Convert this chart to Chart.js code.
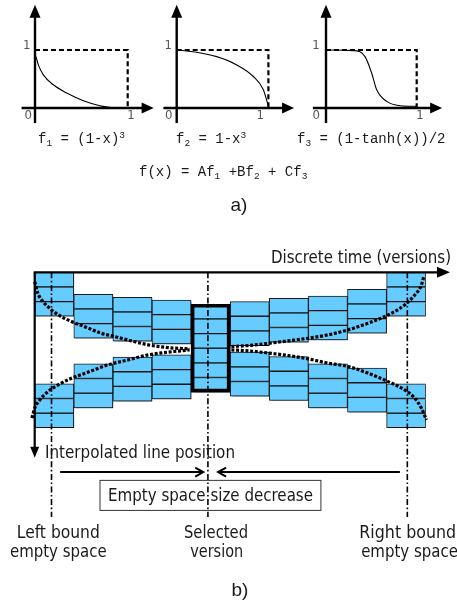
<!DOCTYPE html>
<html>
<head>
<meta charset="utf-8">
<script src="https://cdn.jsdelivr.net/npm/chart.js@4.4.1/dist/chart.umd.min.js"></script>
<style>
  html, body { margin: 0; padding: 0; background: #fff; }
  body { width: 457px; height: 604px; position: relative; overflow: hidden; }
  canvas { position: absolute; top: 0; }
</style>
</head>
<body>
<canvas id="chartB" width="457" height="604" style="left:0"></canvas>
<canvas id="f1" width="157" height="130" style="left:0"></canvas>
<canvas id="f2" width="150" height="130" style="left:157px"></canvas>
<canvas id="f3" width="150" height="130" style="left:307px"></canvas>
<script>
// ---- a) weighting functions ----
const f1X = [0, 0.011, 0.036, 0.09, 0.198, 0.342, 0.522, 0.70, 0.81, 0.86];
const f1Y = [0.9, 0.88, 0.743, 0.571, 0.40, 0.257, 0.126, 0.04, 0.011, 0.0];
const f2X = [0, 0.18, 0.436, 0.655, 0.836, 0.945, 1.0];
const f2Y = [1.0, 0.97, 0.886, 0.743, 0.543, 0.314, 0.03];
const f3X = [0, 0.30, 0.43, 0.504, 0.559, 0.669, 0.816, 1.0];
const f3Y = [1.0, 0.99, 0.886, 0.60, 0.314, 0.114, 0.04, 0.029];
const unitBoxX = [0, 1, 1];
const unitBoxY = [1, 1, 0];
const tickLabels = ['0', '1'];

// ---- b) versions and cell groups (y in cell heights from the time axis) ----
const versions = ['v1', 'v2', 'v3', 'v4', 'v5', 'v6', 'v7', 'v8', 'v9', 'v10'];
const upperTop = [0, 1.5, 1.7, 1.89, 2.18, 2.0, 1.77, 1.62, 1.16, 0];
const lowerTop = [7.61, 6.25, 5.79, 5.64, 5.18, 5.45, 5.75, 6.25, 6.54, 7.61];
const cellsPerGroup = 3;
const selectedIndex = 4;
const markerX = [0.43, 4.43, 9.53];

const upperLeftX = [0, 0.08, 0.21, 0.38, 0.6, 0.94, 1.28, 1.70, 2.05, 2.47, 2.90, 3.41, 3.96];
const upperLeftY = [0.64, 1.43, 1.99, 2.45, 2.9, 3.36, 3.71, 4.16, 4.39, 4.68, 4.95, 5.14, 5.23];
const lowerLeftX = [-0.07, 0, 0.13, 0.34, 0.6, 0.94, 1.36, 1.87, 2.39, 2.90, 3.41, 3.96];
const lowerLeftY = [9.95, 9.27, 8.71, 8.14, 7.68, 7.23, 6.82, 6.32, 5.98, 5.64, 5.45, 5.30];
const upperRightX = [5.03, 5.46, 6.01, 6.48, 6.99, 7.5, 8.01, 8.52, 9.04, 9.46, 9.72, 9.89, 9.95];
const upperRightY = [5.07, 5.0, 4.84, 4.68, 4.5, 4.27, 3.93, 3.48, 2.91, 2.23, 1.55, 0.87, 0.30];
const lowerRightX = [5.03, 5.46, 6.01, 6.48, 6.99, 7.5, 8.01, 8.52, 9.04, 9.46, 9.72, 9.89, 10.02];
const lowerRightY = [5.30, 5.36, 5.52, 5.68, 5.91, 6.2, 6.43, 6.88, 7.46, 8.02, 8.59, 9.27, 10.07];

const SANS = '"DejaVu Sans Condensed", "DejaVu Sans", sans-serif';
const MONO = '"Liberation Mono", "DejaVu Sans Mono", monospace';

function pts(xs, ys) { return xs.map((x, i) => ({ x: x, y: ys[i] })); }

function line(ctx, x1, y1, x2, y2) {
  ctx.beginPath(); ctx.moveTo(x1, y1); ctx.lineTo(x2, y2); ctx.stroke();
}
function arrowHead(ctx, tx, ty, dx, dy, len, half) {
  ctx.beginPath();
  ctx.moveTo(tx, ty);
  ctx.lineTo(tx - dx * len - dy * half, ty - dy * len + dx * half);
  ctx.lineTo(tx - dx * len + dy * half, ty - dy * len - dx * half);
  ctx.closePath(); ctx.fill();
}
function openHead(ctx, tx, ty, dx, len, half) {
  ctx.beginPath();
  ctx.moveTo(tx - dx * len, ty - half); ctx.lineTo(tx, ty); ctx.lineTo(tx - dx * len, ty + half);
  ctx.stroke();
}
// draw text squeezed/stretched to the width it has in the picture
function fitText(ctx, text, x, y, w, size, align) {
  ctx.save();
  ctx.font = size + 'px ' + SANS;
  const s = w / ctx.measureText(text).width;
  const x0 = align === 'center' ? x - w / 2 : align === 'right' ? x - w : x;
  ctx.translate(x0, y); ctx.scale(s, 1);
  ctx.textAlign = 'left'; ctx.textBaseline = 'alphabetic';
  ctx.fillText(text, 0, 0);
  ctx.restore();
}
function richText(ctx, x, y, segs) {
  ctx.save();
  ctx.textAlign = 'left'; ctx.textBaseline = 'alphabetic';
  segs.forEach(s => {
    const small = s[1] === 'sub' || s[1] === 'sup';
    ctx.font = (small ? 9.5 : 14) + 'px ' + MONO;
    const dy = s[1] === 'sub' ? 3 : s[1] === 'sup' ? -5.5 : 0;
    ctx.fillText(s[0], x, y + dy);
    x += ctx.measureText(s[0]).width;
  });
  ctx.restore();
}

// ---- a) small plots ----
const miniAxes = {
  id: 'miniAxes',
  afterDatasetsDraw(chart, args, o) {
    const { ctx } = chart;
    const X = v => chart.scales.x.getPixelForValue(v);
    const Y = v => chart.scales.y.getPixelForValue(v);
    ctx.save();
    ctx.strokeStyle = '#000'; ctx.fillStyle = '#000'; ctx.lineWidth = 2.4;
    line(ctx, X(-0.145), Y(0), X(1.28) - 10, Y(0));
    arrowHead(ctx, X(1.28), Y(0), 1, 0, 12, 5.5);
    line(ctx, X(0), Y(-0.26), X(0), Y(1.78) + 10);
    arrowHead(ctx, X(0), Y(1.78), 0, -1, 13, 5.5);
    ctx.fillStyle = '#555';
    ctx.font = '13px ' + SANS;
    ctx.textAlign = 'center'; ctx.textBaseline = 'middle';
    ctx.fillText(tickLabels[1], X(0) + o.yOne, Y(1) - 4.5);
    ctx.fillText(tickLabels[0], X(0) + o.zero, Y(0) + 8);
    ctx.fillText(tickLabels[1], X(1) + o.xOne, Y(0) + 8);
    ctx.restore();
  }
};

function miniChart(id, cx, cy, o) {
  const cv = document.getElementById(id);
  const W = cv.width, H = cv.height;
  new Chart(cv, {
    type: 'line',
    data: {
      datasets: [
        { data: pts(cx, cy), borderColor: '#000', borderWidth: 1.1, pointRadius: 0,
          cubicInterpolationMode: 'monotone', clip: false },
        { data: pts(unitBoxX, unitBoxY), borderColor: '#000', borderWidth: 2.2,
          borderDash: [5, 3], pointRadius: 0, tension: 0, clip: false }
      ]
    },
    options: {
      responsive: false, animation: false, events: [],
      layout: { padding: 0 },
      plugins: { legend: { display: false }, tooltip: { enabled: false }, miniAxes: o },
      scales: {
        x: { type: 'linear', display: false, min: -(o.ox - o.left) / o.ux, max: (o.left + W - o.ox) / o.ux },
        y: { type: 'linear', display: false, min: -(H - o.oy) / o.uy, max: o.oy / o.uy }
      }
    },
    plugins: [miniAxes]
  });
}

miniChart('f1', f1X, f1Y, { left: 0, ox: 35, oy: 108, ux: 92.7, uy: 58, yOne: -8.3, zero: -6.7, xOne: 3.3 });
miniChart('f2', f2X, f2Y, { left: 157, ox: 176.7, oy: 108, ux: 91.7, uy: 58, yOne: -8.4, zero: -7.9, xOne: -8.3 });
miniChart('f3', f3X, f3Y, { left: 307, ox: 326, oy: 108, ux: 90.7, uy: 58, yOne: -10, zero: -9.7, xOne: 3.3 });

// ---- b) version layout chart ----
const cellShadow = {
  id: 'cellShadow',
  beforeDatasetDraw(chart, args) {
    if (!chart.data.datasets[args.index].shadow) return;
    const c = chart.ctx;
    c.save();
    c.shadowColor = 'rgba(0,0,0,0.35)';
    c.shadowOffsetX = 1.5; c.shadowOffsetY = 1.5; c.shadowBlur = 1;
  },
  afterDatasetDraw(chart, args) {
    if (chart.data.datasets[args.index].shadow) chart.ctx.restore();
  }
};

const decor = {
  id: 'decor',
  afterDatasetsDraw(chart) {
    const { ctx } = chart;
    const X = v => chart.scales.x2.getPixelForValue(v);
    const Y = v => chart.scales.y.getPixelForValue(v);
    ctx.save();
    ctx.strokeStyle = '#000'; ctx.fillStyle = '#000'; ctx.lineWidth = 2.2;
    // time axis and position axis
    line(ctx, X(0) - 1, Y(0), X(10.62) - 10, Y(0));
    arrowHead(ctx, X(10.62), Y(0), 1, 0, 13, 5.5);
    line(ctx, X(0), Y(0), X(0), Y(12.66) - 9);
    arrowHead(ctx, X(0), Y(12.66), 0, 1, 11, 4.5);
    // empty space shrinking arrows
    ctx.lineWidth = 2;
    line(ctx, X(0.65), Y(13.63), X(4.31) - 1, Y(13.63));
    openHead(ctx, X(4.31), Y(13.63), 1, 8, 4.5);
    line(ctx, X(9.34), Y(13.63), X(4.69) + 1, Y(13.63));
    openHead(ctx, X(4.69), Y(13.63), -1, 8, 4.5);
    ctx.lineWidth = 1;
    ctx.strokeStyle = '#333';
    ctx.strokeRect(X(1.67), Y(14.2), X(7.32) - X(1.67), Y(16.25) - Y(14.2));
    ctx.restore();
  },
  afterDraw(chart) {
    const { ctx } = chart;
    ctx.save();
    ctx.fillStyle = '#1a1a1a';
    richText(ctx, 38, 143, [['f'], ['1', 'sub'], [' = (1-x)'], ['3', 'sup']]);
    richText(ctx, 176, 143, [['f'], ['2', 'sub'], [' = 1-x'], ['3', 'sup']]);
    richText(ctx, 297, 143, [['f'], ['3', 'sub'], [' = (1-tanh(x))/2']]);
    richText(ctx, 139, 176, [['f(x) = Af'], ['1', 'sub'], [' +Bf'], ['2', 'sub'], [' + Cf'], ['3', 'sub']]);
    ctx.font = '19px "Liberation Sans", Arial, sans-serif';
    ctx.textAlign = 'center'; ctx.textBaseline = 'alphabetic';
    ctx.fillText('a)', 239, 211);
    ctx.fillText('b)', 240, 596);
    fitText(ctx, 'Discrete time (versions)', 451, 263, 180, 17.5, 'right');
    fitText(ctx, 'Interpolated line position', 45, 458, 190, 17.5, 'left');
    fitText(ctx, 'Empty space size decrease', 210.5, 501, 205, 17.5, 'center');
    fitText(ctx, 'Left bound', 58.3, 538, 83, 17.5, 'center');
    fitText(ctx, 'empty space', 58.3, 556.5, 96.7, 17.5, 'center');
    fitText(ctx, 'Selected', 216, 538, 64, 17.5, 'center');
    fitText(ctx, 'version', 216.7, 556.5, 53, 17.5, 'center');
    fitText(ctx, 'Right bound', 407.7, 538, 96.7, 17.5, 'center');
    fitText(ctx, 'empty space', 409.5, 556.5, 96.7, 17.5, 'center');
    ctx.restore();
  }
};

const dotted = { borderColor: '#000', borderWidth: 3.2, borderDash: [3, 1.7], borderCapStyle: 'butt',
  pointRadius: 0, cubicInterpolationMode: 'monotone', clip: false };

const datasets = [];
[[upperLeftX, upperLeftY], [lowerLeftX, lowerLeftY], [upperRightX, upperRightY], [lowerRightX, lowerRightY]]
  .forEach(c => datasets.push(Object.assign({ type: 'line', xAxisID: 'x2', yAxisID: 'y', order: 1,
    data: pts(c[0], c[1]) }, dotted)));
markerX.forEach(m => datasets.push({ type: 'line', xAxisID: 'x2', yAxisID: 'y', order: 1,
  data: [{ x: m, y: 0 }, { x: m, y: 16.7 }], borderColor: '#000', borderWidth: 1.6,
  borderDash: [6, 2.5, 1.6, 2.5], pointRadius: 0, clip: false }));
datasets.push({ type: 'bar', xAxisID: 'x', yAxisID: 'y', order: 2, grouped: false,
  data: versions.map((v, i) => i === selectedIndex ? [upperTop[i], lowerTop[i] + cellsPerGroup] : null),
  backgroundColor: 'rgba(0,0,0,0)', borderColor: '#000', borderWidth: 3, borderSkipped: false,
  categoryPercentage: 1, barPercentage: 1 });
[upperTop, lowerTop].forEach(group => {
  for (let k = 0; k < cellsPerGroup; k++) {
    datasets.push({ type: 'bar', xAxisID: 'x', yAxisID: 'y', order: 3, grouped: false, shadow: true,
      data: group.map(t => [t + k, t + k + 1]),
      backgroundColor: '#66CCFF', borderColor: '#1a1a1a', borderWidth: 1, borderSkipped: false,
      categoryPercentage: 1, barPercentage: 1 });
  }
});

new Chart(document.getElementById('chartB'), {
  type: 'bar',
  data: { labels: versions, datasets: datasets },
  options: {
    responsive: false, animation: false, events: [],
    layout: { padding: { left: 34.7, right: 31.3, top: 272.3, bottom: 87 } },
    plugins: { legend: { display: false }, tooltip: { enabled: false } },
    scales: {
      x: { type: 'category', display: false, offset: true },
      x2: { type: 'linear', display: false, offset: false, min: 0, max: 10 },
      y: { type: 'linear', display: false, reverse: true, min: 0, max: 16.7 }
    }
  },
  plugins: [cellShadow, decor]
});
</script>
</body>
</html>
